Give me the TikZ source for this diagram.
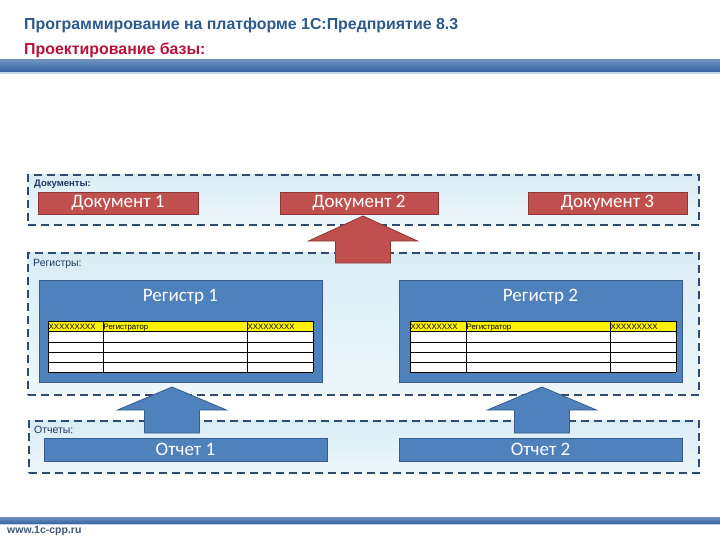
\documentclass[tikz,border=0pt]{standalone}
\usepackage{fontspec}
\setmainfont{Liberation Sans}
\newfontfamily\carl{Carlito}
\definecolor{titleblue}{HTML}{2C5A8C}
\definecolor{subred}{HTML}{B8123C}
\definecolor{dashblue}{HTML}{2F4B70}
\definecolor{contfill}{HTML}{D9ECF5}
\definecolor{docred}{HTML}{C0504D}
\definecolor{docredline}{HTML}{8C3836}
\definecolor{boxblue}{HTML}{4F81BD}
\definecolor{boxblueline}{HTML}{385D8A}
\definecolor{labelblue}{HTML}{1F3A60}
\definecolor{barblue}{HTML}{3A6DAE}
\newcommand\uparr[5]{%
  \filldraw[#5] (#1,#2) -- (#1+54.5,#3) -- (#1+27.5,#3) -- (#1+27.5,#4)
    -- (#1-27.5,#4) -- (#1-27.5,#3) -- (#1-54.5,#3) -- cycle;}
\newcommand\regtable[5]{%
  \fill[yellow] (#1,321) rectangle (#4,331);
  \fill[white] (#1,331) rectangle (#4,372);
  \foreach \yy in {321,331,342,352,362,372} \draw[black, line width=0.8pt] (#1,\yy) -- (#4,\yy);
  \foreach \xx in {#1,#2,#3,#4} \draw[black, line width=0.8pt] (\xx,321) -- (\xx,372);
  \node[tabtxt] at (#1,329) {XXXXXXXXX};
  \node[tabtxt] at (#2,329) {Регистратор};
  \node[tabtxt] at (#3,329) {XXXXXXXXX};}
\begin{document}
\begin{tikzpicture}[x=1pt,y=-1pt,
  container/.style={draw=dashblue, line width=1.6pt, dash pattern=on 8pt off 5pt,
    top color=contfill, bottom color=contfill!45!white, anchor=north west, inner sep=0pt},
  lbl/.style={anchor=west, inner sep=0pt, font=\fontsize{10.5}{12}\selectfont, text=labelblue},
  redbox/.style={draw=docredline, line width=0.8pt, fill=docred, inner sep=0pt,
    text=white, font=\carl\fontsize{19}{21}\selectfont},
  bluebox/.style={draw=boxblueline, line width=0.8pt, fill=boxblue, inner sep=0pt,
    text=white, font=\carl\fontsize{19}{21}\selectfont},
  tabtxt/.style={anchor=base west, inner sep=0.5pt, font=\fontsize{7.8}{8}\selectfont, text=black},
  redarrow/.style={fill=docred, draw=docredline, line width=0.8pt},
  bluearrow/.style={fill=boxblue, draw=boxblueline, line width=0.8pt}]
\useasboundingbox (0,0) rectangle (720,540);
\fill[white] (0,0) rectangle (720,540);
% header
\node[anchor=west, inner sep=0pt, text=titleblue, font=\bfseries\fontsize{15.9}{18}\selectfont] (title) at (24,25) {Программирование на платформе 1С:Предприятие 8.3};
\node[anchor=west, inner sep=0pt, text=subred, font=\bfseries\fontsize{15.9}{18}\selectfont] (subtitle) at (24,50) {Проектирование базы:};
\shade[top color=barblue!75!white, bottom color=barblue!90!black] (0,60) rectangle (720,72);
\fill[barblue!30!white] (0,72) rectangle (720,74);
% containers
\node[container, minimum width=671pt, minimum height=50pt] (docs) at (27,174) {};
\node[lbl, font=\bfseries\fontsize{9.5}{11}\selectfont] (doclbl) at (34,184) {Документы:};
\node[container, minimum width=671pt, minimum height=142pt] (regs) at (27,252) {};
\node[lbl] (reglbl) at (33,264) {Регистры:};
\node[container, minimum width=670pt, minimum height=52pt] (reps) at (28,420) {};
\node[lbl] (replbl) at (34,430) {Отчеты:};
% documents
\node[redbox, minimum width=160pt, minimum height=22pt] (doc1) at (118,203) {Документ 1};
\node[redbox, minimum width=158pt, minimum height=22pt] (doc2) at (359,203) {Документ 2};
\node[redbox, minimum width=159pt, minimum height=22pt] (doc3) at (607.5,203) {Документ 3};
% registers
\node[bluebox, minimum width=283pt, minimum height=102pt] (reg1) at (180.5,331) {};
\node[text=white, font=\carl\fontsize{19}{21}\selectfont, inner sep=0pt] (reg1t) at (180.5,297) {Регистр 1};
\node[bluebox, minimum width=283pt, minimum height=102pt] (reg2) at (540.5,331) {};
\node[text=white, font=\carl\fontsize{19}{21}\selectfont, inner sep=0pt] (reg2t) at (540.5,297) {Регистр 2};
\regtable{48}{103}{247}{313}{}
\regtable{410}{466}{610}{676}{}
% reports
\node[bluebox, minimum width=283pt, minimum height=23pt] (rep1) at (185.5,449.5) {Отчет 1};
\node[bluebox, minimum width=283pt, minimum height=23pt] (rep2) at (540.5,449.5) {Отчет 2};
% block arrows
\uparr{363}{216}{241}{263}{redarrow}
\uparr{172}{387}{410}{433}{bluearrow}
\uparr{542}{387}{410}{433}{bluearrow}
% footer
\shade[top color=barblue!75!white, bottom color=barblue!90!black] (0,517) rectangle (720,524);
\fill[barblue!30!white] (0,524) rectangle (720,525);
\node[anchor=west, inner sep=0pt, text=labelblue!85!white, font=\bfseries\fontsize{10.5}{12}\selectfont] (url) at (7,531) {www.1c-cpp.ru};
\end{tikzpicture}
\end{document}
